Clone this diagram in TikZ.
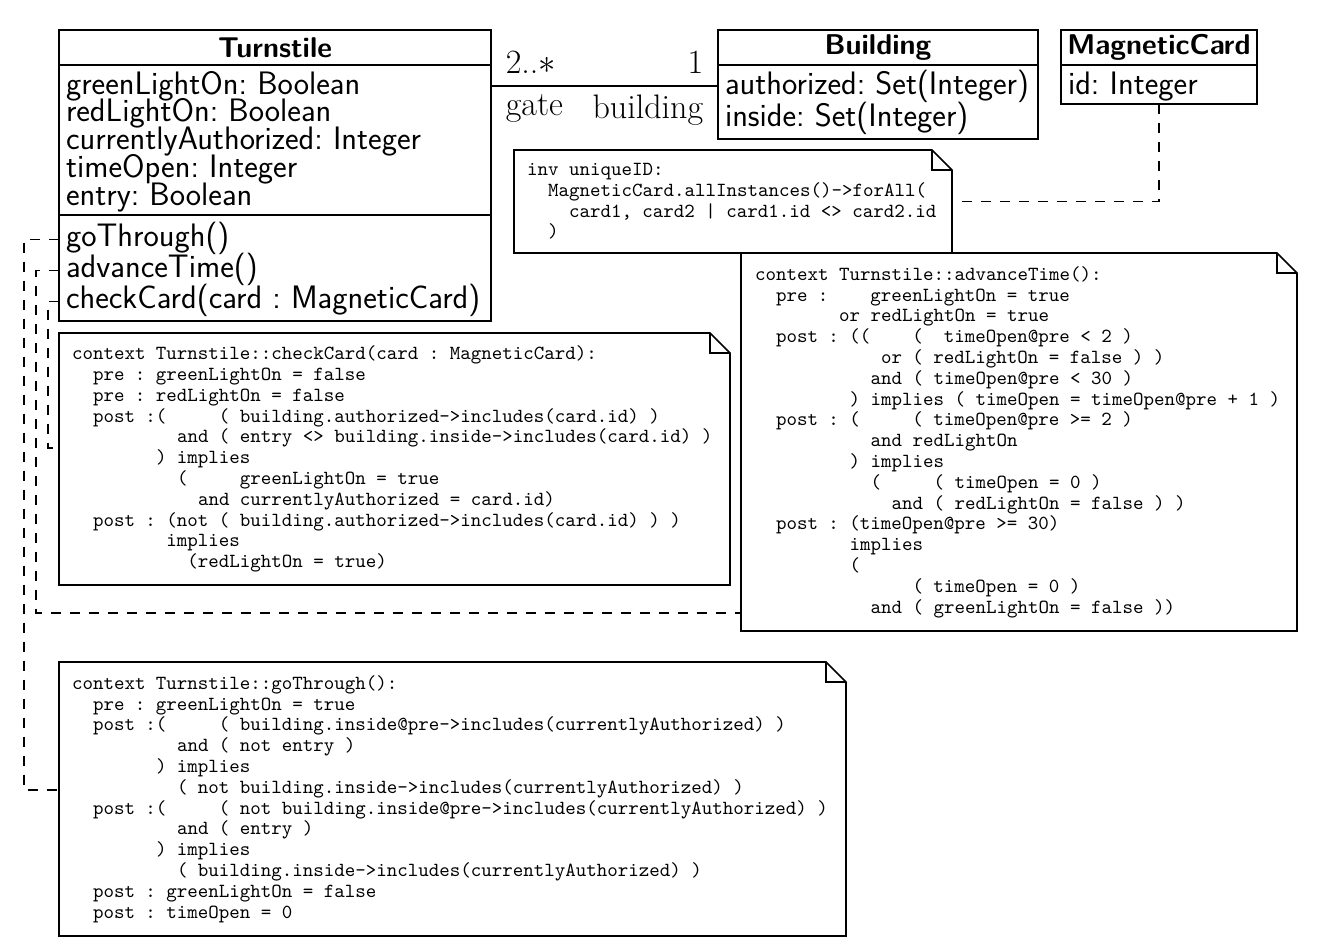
\documentclass[tikz,border=0pt]{standalone}
\usepackage{tikz}
\usetikzlibrary{positioning}

\newcommand{\notefont}{\fontsize{10}{10.4}\selectfont\ttfamily
  \fontdimen2\font=5.25pt\frenchspacing}
\newcommand{\classfont}[1]{\fontsize{16.25}{#1}\selectfont\sffamily\frenchspacing\lineskiplimit=-20pt}
\newcommand{\ocltab}[1]{\hspace*{#1\fontdimen2\font}}

\tikzset{
  classname/.style={draw, thick, anchor=north west, inner sep=0pt, outer sep=0pt, minimum height=17.5pt,
    font=\fontsize{14.3}{14}\selectfont\sffamily\bfseries},
  classattr/.style={draw, thick, inner xsep=3.5pt, inner ysep=0pt, outer sep=0pt, align=flush left,
    font=\classfont{13.9}},
  classop/.style={inner xsep=3.5pt, inner ysep=0pt, outer sep=0pt, text height=11pt, text depth=4.5pt,
    align=flush left, text width=209pt, font=\classfont{13.9}},
  notebox/.style={anchor=north west, inner sep=0pt, outer sep=0pt, align=flush left, font=\notefont},
  notedash/.style={semithick, dash pattern=on 5pt off 4.5pt},
  rolelabel/.style={font=\fontsize{17}{17}\selectfont\rmfamily, inner xsep=7pt}
}

\begin{document}
\begin{tikzpicture}[x=0.5pt, y=-0.5pt]
  \useasboundingbox (0,0) rectangle (1324,948);

  % class Turnstile
  \node[classname, minimum width=216pt] (turnstile) at (59,30) {Turnstile};
  \node[classattr, text width=209pt, minimum height=75pt, below=0pt of turnstile] (turnstile-attr)
    {\rule{0pt}{13pt}greenLightOn: Boolean\\ redLightOn: Boolean\\ currentlyAuthorized: Integer\\ timeOpen: Integer\\ entry: Boolean};
  \node[classop, below=4.5pt of turnstile-attr] (op-go) {goThrough()};
  \node[classop, below=0pt of op-go] (op-adv) {advanceTime()};
  \node[classop, below=0pt of op-adv] (op-check) {\mbox{checkCard(card : MagneticCard)}};
  \draw[thick] (turnstile-attr.south west) rectangle ([yshift=-2pt]op-check.south east);

  % class Building
  \node[classname, minimum width=160pt] (building) at (718,30) {Building};
  \node[classattr, text width=153pt, minimum height=37pt, below=0pt of building, font=\classfont{16}]
    (building-attr) {\mbox{authorized: Set(Integer)}\\ inside: Set(Integer)};

  % class MagneticCard
  \node[classname, minimum width=98pt] (card) at (1061,30) {MagneticCard};
  \node[classattr, text width=91pt, minimum height=19.5pt, below=0pt of card] (card-attr)
    {\rule{0pt}{13pt}id: Integer};

  % association
  \draw[thick] ([yshift=-10.5pt]turnstile.south east) -- ([yshift=-10.5pt]building.south west)
    node[rolelabel, pos=0, anchor=south west, inner ysep=6pt] (mult-gate) {2..$*$}
    node[rolelabel, pos=0, anchor=north west, inner ysep=4pt] (role-gate) {gate}
    node[rolelabel, pos=1, anchor=south east, inner ysep=6pt] (mult-building) {1}
    node[rolelabel, pos=1, anchor=north east, inner ysep=4pt] (role-building) {building};

  % OCL notes
  \node[notebox, minimum width=219pt, minimum height=51.5pt, text width=206pt] (unique) at (514,150)
    {inv uniqueID:\\
     \ocltab{2}MagneticCard.allInstances()->forAll(\\
     \ocltab{4}card1, card2 | card1.id <> card2.id\\
     \ocltab{2})};

  \node[notebox, minimum width=335.5pt, minimum height=126pt, text width=322.5pt] (check) at (59,333)
    {context Turnstile::checkCard(card : MagneticCard):\\
     \ocltab{2}pre : greenLightOn = false\\
     \ocltab{2}pre : redLightOn = false\\
     \ocltab{2}post :(\ocltab{5}( building.authorized->includes(card.id) )\\
     \ocltab{10}and ( entry <> building.inside->includes(card.id) )\\
     \ocltab{8}) implies\\
     \ocltab{10}(\ocltab{5}greenLightOn = true\\
     \ocltab{12}and currentlyAuthorized = card.id)\\
     \ocltab{2}post : (not ( building.authorized->includes(card.id) ) )\\
     \ocltab{9}implies\\
     \ocltab{11}(redLightOn = true)};

  \node[notebox, minimum width=278pt, minimum height=189pt, text width=264pt] (advance) at (741,253)
    {context Turnstile::advanceTime():\\
     \ocltab{2}pre :\ocltab{4}greenLightOn = true\\
     \ocltab{8}or redLightOn = true\\
     \ocltab{2}post : ((\ocltab{4}(\ocltab{2}timeOpen@pre < 2 )\\
     \ocltab{12}or ( redLightOn = false ) )\\
     \ocltab{11}and ( timeOpen@pre < 30 )\\
     \ocltab{9}) implies ( timeOpen = timeOpen@pre + 1 )\\
     \ocltab{2}post : (\ocltab{5}( timeOpen@pre >= 2 )\\
     \ocltab{11}and redLightOn\\
     \ocltab{9}) implies\\
     \ocltab{11}(\ocltab{5}( timeOpen = 0 )\\
     \ocltab{13}and ( redLightOn = false ) )\\
     \ocltab{2}post : (timeOpen@pre >= 30)\\
     \ocltab{9}implies\\
     \ocltab{9}(\\
     \ocltab{15}( timeOpen = 0 )\\
     \ocltab{11}and ( greenLightOn = false ))};

  \node[notebox, minimum width=393.5pt, minimum height=137pt, text width=380.5pt] (through) at (59,662)
    {context Turnstile::goThrough():\\
     \ocltab{2}pre : greenLightOn = true\\
     \ocltab{2}post :(\ocltab{5}( building.inside@pre->includes(currentlyAuthorized) )\\
     \ocltab{10}and ( not entry )\\
     \ocltab{8}) implies\\
     \ocltab{10}( not building.inside->includes(currentlyAuthorized) )\\
     \ocltab{2}post :(\ocltab{5}( not building.inside@pre->includes(currentlyAuthorized) )\\
     \ocltab{10}and ( entry )\\
     \ocltab{8}) implies\\
     \ocltab{10}( building.inside->includes(currentlyAuthorized) )\\
     \ocltab{2}post : greenLightOn = false\\
     \ocltab{2}post : timeOpen = 0};

  % dog-eared outlines of the notes
  \foreach \n in {unique,check,advance,through} {
    \draw[thick] (\n.north west) -- ([xshift=-10pt]\n.north east) -- ([yshift=-10pt]\n.north east)
      -- (\n.south east) -- (\n.south west) -- cycle
      ([xshift=-10pt]\n.north east) |- ([yshift=-10pt]\n.north east);
  }

  % note attachments
  \draw[notedash] (card-attr.south) |- (unique.east);
  \draw[notedash] (op-go.west) -- ++(-17.5pt,0) |- ([yshift=4.5pt]through.west);
  \draw[notedash] (op-adv.west) -- ++(-11.5pt,0) |- ([yshift=9pt]advance.south west);
  \draw[notedash] (op-check.west) -- ++(-5.5pt,0) |- ([yshift=5.5pt]check.west);
\end{tikzpicture}
\end{document}
